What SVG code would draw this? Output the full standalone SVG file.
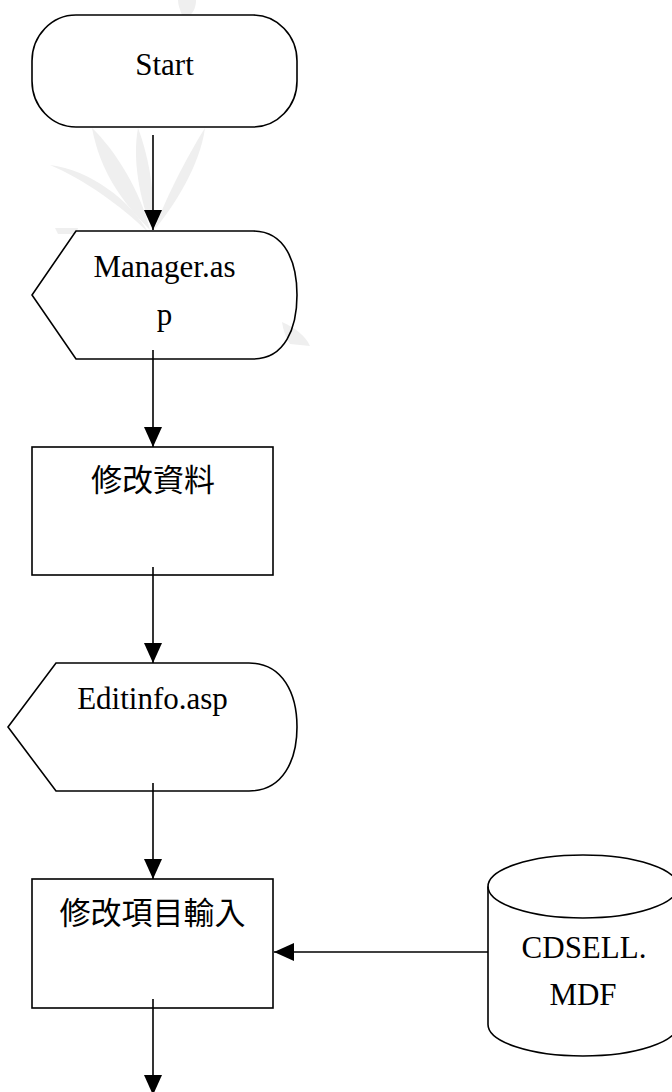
<svg xmlns="http://www.w3.org/2000/svg" width="672" height="1092" viewBox="0 0 672 1092">
<style>
.shape{fill:#fff;stroke:#000;stroke-width:1.6}
.shapeT{fill:none;stroke:#000;stroke-width:1.6}
.line{stroke:#000;stroke-width:1.6;fill:none}
.lat{font-family:"Liberation Serif","Times New Roman",serif;font-size:31px;fill:#000;text-anchor:middle}
.cjk{font-family:"Noto Sans CJK TC","Noto Sans CJK SC",sans-serif;font-size:31px;fill:#000;text-anchor:middle}
.wm{fill:#efefef}
</style>
<defs>
<marker id="ah" markerUnits="userSpaceOnUse" markerWidth="20" markerHeight="20" viewBox="0 0 20 18" refX="20" refY="9" orient="auto">
<path d="M0,0 L20,9 L0,18 Z" fill="#000"/>
</marker>
</defs>
<rect width="672" height="1092" fill="#fff"/>
<g id="watermark">
<path class="wm" d="M150,230 C120,200 100,170 92,128 C115,150 140,190 150,230 Z"/>
<path class="wm" d="M152,230 C140,200 132,160 138,128 C150,160 156,200 152,230 Z"/>
<path class="wm" d="M154,230 C165,200 185,160 205,128 C200,165 175,205 154,230 Z"/>
<path class="wm" d="M148,232 C120,205 85,180 50,165 C90,170 130,200 148,232 Z"/>
<path class="wm" d="M178,0 L196,0 C196,6 194,12 190,15 L182,15 C180,10 178,5 178,0 Z"/>
<path class="wm" d="M282,322 C295,328 305,335 310,346 L290,344 C286,338 283,330 282,322 Z"/>
<path class="wm" d="M55,228 L78,228 L76,234 L58,234 Z"/>
</g>
<g id="connectors">
<line class="line" x1="153" y1="135" x2="153" y2="230" marker-end="url(#ah)"/>
<line class="line" x1="153" y1="350" x2="153" y2="447" marker-end="url(#ah)"/>
<line class="line" x1="153" y1="567" x2="153" y2="663" marker-end="url(#ah)"/>
<line class="line" x1="153" y1="783" x2="153" y2="879" marker-end="url(#ah)"/>
<line class="line" x1="488" y1="952" x2="274" y2="952" marker-end="url(#ah)"/>
<line class="line" x1="153" y1="999" x2="153" y2="1095" marker-end="url(#ah)"/>
</g>
<g id="start">
<rect class="shapeT" x="32" y="15" width="265" height="112" rx="44" ry="46"/>
<text class="lat" x="164.5" y="75">Start</text>
</g>
<g id="manager">
<path class="shapeT" d="M76,231 L253,231 C285,231 297,262 297,295 C297,328 285,359 253,359 L76,359 L32,295 Z"/>
<text class="lat" x="164.5" y="277">Manager.as</text>
<text class="lat" x="164.5" y="325">p</text>
</g>
<g id="editdata">
<rect class="shapeT" x="32" y="447" width="241" height="128"/>
<text class="cjk" x="153" y="491">修改資料</text>
</g>
<g id="editinfo">
<path class="shapeT" d="M56,663 L249,663 C283,663 297,694 297,727 C297,760 283,791 249,791 L56,791 L8,727 Z"/>
<text class="lat" x="152.5" y="709">Editinfo.asp</text>
</g>
<g id="edititems">
<rect class="shapeT" x="32" y="879" width="241" height="129"/>
<text class="cjk" x="152.5" y="924">修改項目輸入</text>
</g>
<g id="cdsell">
<path class="shape" d="M488,886.5 L488,1024.5 A95,31.5 0 0 0 678,1024.5 L678,886.5 A95,31.5 0 0 0 488,886.5 Z"/>
<path class="shapeT" d="M488,886.5 A95,31.5 0 0 0 678,886.5"/>
<text class="lat" x="584" y="958">CDSELL.</text>
<text class="lat" x="583" y="1005">MDF</text>
</g>
</svg>
